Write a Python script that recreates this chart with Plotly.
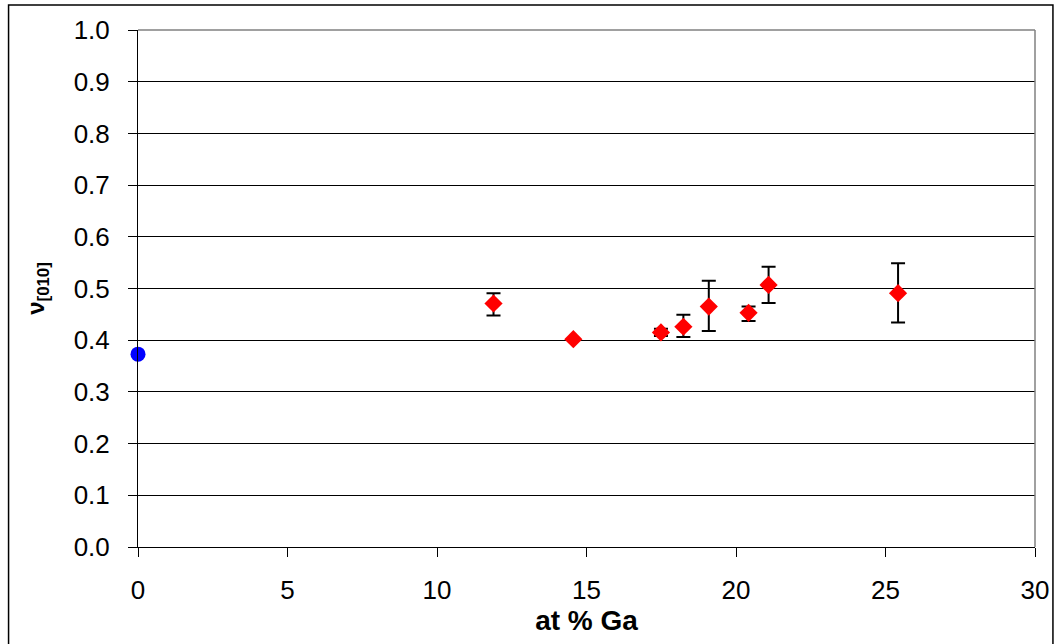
import plotly.graph_objects as go

# Reference point (x = 0)
ref_x = [0]
ref_y = [0.373]

# Measured points
ga_pct = [11.89, 14.56, 17.49, 18.24, 19.09, 20.42, 21.09, 25.42]
nu_010 = [0.471, 0.402, 0.415, 0.426, 0.465, 0.453, 0.507, 0.491]
err_plus = [0.020, 0.000, 0.007, 0.023, 0.050, 0.012, 0.035, 0.058]
err_minus = [0.023, 0.000, 0.007, 0.020, 0.047, 0.016, 0.035, 0.057]

x_ticks = [0, 5, 10, 15, 20, 25, 30]
y_ticks = [0.0, 0.1, 0.2, 0.3, 0.4, 0.5, 0.6, 0.7, 0.8, 0.9, 1.0]

FONT = "Liberation Sans, Arial, sans-serif"

fig = go.Figure()
fig.add_trace(go.Scatter(
    x=ref_x, y=ref_y, mode="markers",
    marker=dict(symbol="circle", size=15, color="#0000FF"),
    showlegend=False, cliponaxis=False,
))
fig.add_trace(go.Scatter(
    x=ga_pct, y=nu_010, mode="markers",
    marker=dict(symbol="diamond", size=14, color="#FF0000"),
    error_y=dict(type="data", array=err_plus, arrayminus=err_minus,
                 color="black", thickness=2, width=7, visible=True),
    showlegend=False, cliponaxis=False,
))

fig.update_layout(
    width=1061, height=644, autosize=False,
    margin=dict(l=138, r=22, t=30, b=97),
    paper_bgcolor="white", plot_bgcolor="white",
    font=dict(family=FONT, color="black"),
    xaxis=dict(
        range=[0, 30], tickvals=x_ticks, ticktext=[str(v) for v in x_ticks],
        showgrid=False, zeroline=False,
        showline=True, linecolor="black", linewidth=1,
        ticks="outside", ticklen=9, tickcolor="black",
        tickfont=dict(size=26, family=FONT), ticklabelstandoff=11,
        title=dict(text="<b>at % Ga</b>", font=dict(size=28, family=FONT), standoff=0),
    ),
    yaxis=dict(
        range=[0, 1.0], tickvals=y_ticks, ticktext=[f"{v:.1f}" for v in y_ticks],
        showgrid=True, gridcolor="black", gridwidth=1,
        zeroline=False,
        showline=True, linecolor="black", linewidth=1,
        ticks="outside", ticklen=9, tickcolor="black",
        tickfont=dict(size=26, family=FONT), ticklabelstandoff=13,
        title=dict(text="<b>ν<sub>[010]</sub></b>", font=dict(size=24, family=FONT), standoff=22),
    ),
    shapes=[
        # grey plot-area border (top and right)
        dict(type="line", xref="paper", yref="paper", x0=0, x1=1, y0=1, y1=1,
             line=dict(color="#808080", width=1.5), layer="above"),
        dict(type="line", xref="paper", yref="paper", x0=1, x1=1, y0=0, y1=1,
             line=dict(color="#808080", width=1.5), layer="above"),
        # outer chart frame
        dict(type="rect", xref="paper", yref="paper",
             x0=-0.1443, x1=1.02, y0=-0.25, y1=1.0484,
             line=dict(color="black", width=1.5), layer="above"),
    ],
)

fig.write_html(
    "out.html",
    config={"responsive": False, "displayModeBar": False},
    post_script="document.body.style.margin='0px';document.body.style.overflow='hidden';",
)
